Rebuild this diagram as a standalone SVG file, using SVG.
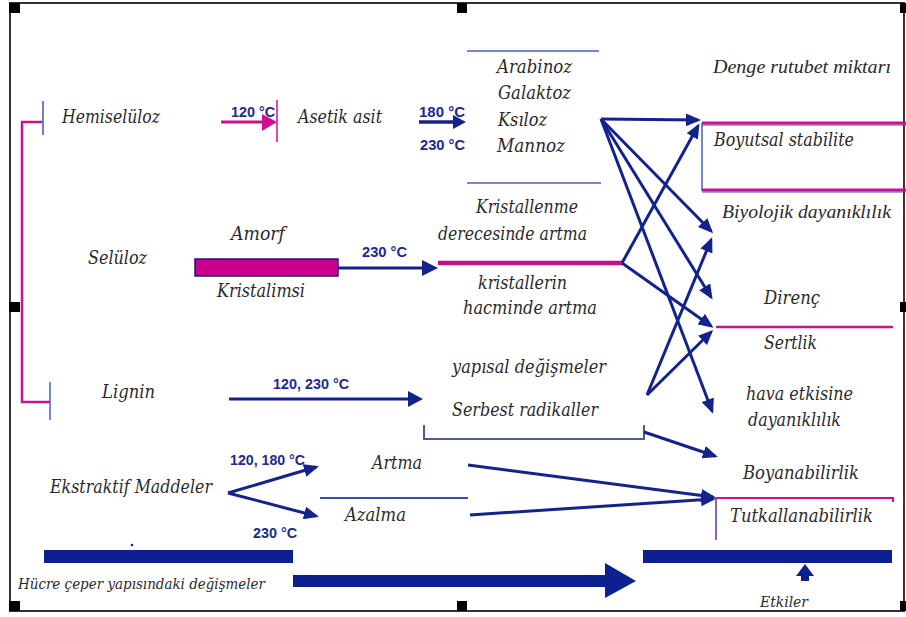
<svg xmlns="http://www.w3.org/2000/svg" width="906" height="617" viewBox="0 0 906 617">
<defs>
<style>
.t{font-family:"DejaVu Serif","Liberation Serif",serif;font-style:italic;font-size:18px;fill:#2a2a2a;}
.n{font-family:"Liberation Serif","DejaVu Serif",serif;font-size:19px;}
.s{font-size:14px;}
.b{font-family:"Liberation Sans",Arial,sans-serif;font-weight:bold;font-size:15px;fill:#1c2a8c;}
.ar{fill:none;stroke:#13238c;stroke-width:3;marker-end:url(#ah);}
.mg{fill:none;stroke:#cc1090;}
.bl{fill:none;stroke:#4a62b8;stroke-width:1.5;}
.nv{fill:#0c208e;}
.h{fill:#000;}
</style>
<marker id="ah" viewBox="0 0 15 13" refX="12" refY="6.5" markerWidth="15" markerHeight="13" markerUnits="userSpaceOnUse" orient="auto">
<path d="M0,0 L15,6.5 L0,13 Z" fill="#13238c"/>
</marker>
</defs>
<rect x="0" y="0" width="906" height="617" fill="#fff"/>
<rect x="10" y="3" width="894" height="608" fill="#fff" stroke="#333" stroke-width="2"/>
<g id="handles">
<rect class="h" x="9" y="3" width="11" height="10"/>
<rect class="h" x="457" y="3" width="10" height="10"/>
<rect class="h" x="900" y="3" width="6" height="10"/>
<rect class="h" x="9" y="302" width="11" height="10"/>
<rect class="h" x="900" y="302" width="6" height="10"/>
<rect class="h" x="9" y="601" width="11" height="10"/>
<rect class="h" x="457" y="601" width="10" height="10"/>
<rect class="h" x="900" y="601" width="6" height="10"/>
</g>

<g id="bracket">
<path class="mg" d="M43,122 H22 V402 H50" stroke-width="2.5"/>
<line x1="43" y1="101" x2="43" y2="135" stroke="#6a82c8" stroke-width="2"/>
<line x1="50" y1="382" x2="50" y2="420" stroke="#4060c0" stroke-width="1.5"/>
</g>

<g id="hemiseluloz">
<text class="t" x="62" y="123" textLength="98" lengthAdjust="spacingAndGlyphs">Hemiselüloz</text>
</g>
<g id="asetik-asit">
<line x1="277" y1="100" x2="277" y2="142" stroke="#cc1090" stroke-width="1.5"/>
<text class="t" x="298" y="123" textLength="84" lengthAdjust="spacingAndGlyphs">Asetik asit</text>
</g>
<g id="sekerler">
<line class="bl" x1="467" y1="51" x2="599" y2="51"/>
<line class="bl" x1="467" y1="183" x2="601" y2="183"/>
<text class="t" x="497" y="73" textLength="75" lengthAdjust="spacingAndGlyphs">Arabinoz</text>
<text class="t" x="498" y="99" textLength="73" lengthAdjust="spacingAndGlyphs">Galaktoz</text>
<text class="t" x="498" y="126" textLength="49" lengthAdjust="spacingAndGlyphs">Ksıloz</text>
<text class="t" x="497" y="152" textLength="68" lengthAdjust="spacingAndGlyphs">Mannoz</text>
</g>
<g id="seluloz">
<text class="t" x="88" y="264" textLength="59" lengthAdjust="spacingAndGlyphs">Selüloz</text>
</g>
<g id="amorf-kristalimsi">
<text class="t" x="231" y="240" textLength="54" lengthAdjust="spacingAndGlyphs">Amorf</text>
<rect x="195" y="259" width="143" height="17" fill="#c8008a" stroke="#1a1a7a" stroke-width="1.5"/>
<text class="t" x="217" y="297" textLength="88" lengthAdjust="spacingAndGlyphs">Kristalimsi</text>
</g>
<g id="kristallenme">
<text class="t" x="476" y="213" textLength="102" lengthAdjust="spacingAndGlyphs">Kristallenme</text>
<text class="t" x="438" y="240" textLength="149" lengthAdjust="spacingAndGlyphs">derecesinde artma</text>
<line x1="438" y1="263" x2="622" y2="263" stroke="#c0108c" stroke-width="4.5"/>
<text class="t" x="478" y="289" textLength="89" lengthAdjust="spacingAndGlyphs">kristallerin</text>
<text class="t" x="463" y="314" textLength="134" lengthAdjust="spacingAndGlyphs">hacminde artma</text>
</g>
<g id="lignin">
<text class="t" x="102" y="398" textLength="53" lengthAdjust="spacingAndGlyphs">Lignin</text>
</g>
<g id="lignin-sonuc">
<text class="t" x="452" y="373" textLength="154" lengthAdjust="spacingAndGlyphs">yapısal değişmeler</text>
<text class="t" x="452" y="416" textLength="146" lengthAdjust="spacingAndGlyphs">Serbest radikaller</text>
<path d="M424,425 V439 H644 V425" fill="none" stroke="#4a5a9a" stroke-width="2"/>
</g>
<g id="ekstraktif">
<text class="t" x="50" y="493" textLength="162" lengthAdjust="spacingAndGlyphs">Ekstraktif Maddeler</text>
</g>
<g id="artma-azalma">
<text class="t" x="372" y="469" textLength="50" lengthAdjust="spacingAndGlyphs">Artma</text>
<line x1="320" y1="498" x2="468" y2="498" stroke="#3050b0" stroke-width="2"/>
<text class="t" x="345" y="521" textLength="61" lengthAdjust="spacingAndGlyphs">Azalma</text>
</g>
<g id="denge">
<text class="t n" x="713" y="73" textLength="178" lengthAdjust="spacingAndGlyphs">Denge rutubet miktarı</text>
</g>
<g id="boyutsal">
<line x1="702" y1="125" x2="906" y2="125" stroke="#4a4ab0" stroke-width="1"/>
<line class="mg" x1="702" y1="123" x2="906" y2="123" stroke-width="3"/>
<line x1="702" y1="192" x2="906" y2="192" stroke="#4a4ab0" stroke-width="1"/>
<line class="mg" x1="702" y1="190" x2="906" y2="190" stroke-width="3"/>
<line x1="702" y1="123" x2="702" y2="191" stroke="#4a62b8" stroke-width="1.5"/>
<text class="t" x="714" y="146" textLength="140" lengthAdjust="spacingAndGlyphs">Boyutsal stabilite</text>
</g>
<g id="biyolojik">
<text class="t n" x="722" y="218" textLength="169" lengthAdjust="spacingAndGlyphs">Biyolojik dayanıklılık</text>
</g>
<g id="direnc-sertlik">
<text class="t" x="764" y="304" textLength="56" lengthAdjust="spacingAndGlyphs">Direnç</text>
<line class="mg" x1="716" y1="327" x2="893" y2="327" stroke-width="2.5"/>
<text class="t" x="764" y="349" textLength="53" lengthAdjust="spacingAndGlyphs">Sertlik</text>
</g>
<g id="hava">
<text class="t" x="746" y="400" textLength="107" lengthAdjust="spacingAndGlyphs">hava etkisine</text>
<text class="t" x="748" y="426" textLength="93" lengthAdjust="spacingAndGlyphs">dayanıklılık</text>
</g>
<g id="boyanabilirlik">
<text class="t" x="743" y="479" textLength="116" lengthAdjust="spacingAndGlyphs">Boyanabilirlik</text>
<path class="mg" d="M716,498 H893 V502" stroke-width="2"/>
<line x1="716" y1="498" x2="716" y2="540" stroke="#6030a0" stroke-width="1.5"/>
<text class="t" x="730" y="522" textLength="143" lengthAdjust="spacingAndGlyphs">Tutkallanabilirlik</text>
</g>
<g id="hucre">
<rect class="nv" x="44" y="550" width="249" height="13"/>
<circle cx="132" cy="545" r="1.3" fill="#0c208e"/>
<text class="t s" x="18" y="589" textLength="247" lengthAdjust="spacingAndGlyphs">Hücre çeper yapısındaki değişmeler</text>
</g>
<g id="etkiler">
<rect class="nv" x="643" y="550" width="249" height="13"/>
<polygon class="nv" points="805,564 814,576 809,576 809,581 801,581 801,576 796,576"/>
<text class="t s" x="760" y="607" textLength="48" lengthAdjust="spacingAndGlyphs">Etkiler</text>
</g>

<g id="connectors">
<line x1="221" y1="122" x2="263" y2="122" stroke="#cc1090" stroke-width="3"/>
<polygon points="262,114 277,122 262,131" fill="#cc1090"/>
<text class="b" x="231" y="117" textLength="44" lengthAdjust="spacingAndGlyphs">120 °C</text>

<line x1="419" y1="122" x2="455" y2="122" stroke="#13238c" stroke-width="3.5"/>
<polygon points="453,115 466,122 453,129" fill="#13238c"/>
<text class="b" x="419" y="117" textLength="46" lengthAdjust="spacingAndGlyphs">180 °C</text>
<text class="b" x="420" y="150" textLength="45" lengthAdjust="spacingAndGlyphs">230 °C</text>

<line x1="338" y1="268" x2="424" y2="268" stroke="#13238c" stroke-width="3"/>
<polygon points="422,260 438,268 422,276" fill="#13238c"/>
<text class="b" x="362" y="257" textLength="45" lengthAdjust="spacingAndGlyphs">230 °C</text>

<line x1="229" y1="399" x2="410" y2="399" stroke="#13238c" stroke-width="3"/>
<polygon points="408,391 423,399 408,407" fill="#13238c"/>
<text class="b" x="273" y="389" textLength="76" lengthAdjust="spacingAndGlyphs">120, 230 °C</text>

<path class="ar" d="M228,493 L316,467"/>
<path class="ar" d="M228,493 L316,516"/>
<text class="b" x="230" y="465" textLength="75" lengthAdjust="spacingAndGlyphs">120, 180 °C</text>
<text class="b" x="253" y="538" textLength="44" lengthAdjust="spacingAndGlyphs">230 °C</text>

<path class="ar" d="M601,119 L698,120"/>
<path class="ar" d="M601,119 L711,231"/>
<path class="ar" d="M601,119 L711,297"/>
<path class="ar" d="M601,119 L712,411"/>
<path class="ar" d="M622,263 L698,126"/>
<path class="ar" d="M622,263 L711,326"/>
<path class="ar" d="M647,395 L711,240"/>
<path class="ar" d="M647,395 L711,332"/>
<path class="ar" d="M644,432 L715,456"/>
<path class="ar" d="M468,465 L713,497"/>
<path class="ar" d="M470,515 L713,499"/>

<polygon class="nv" points="293,575 605,575 605,563 636,581 605,598 605,587 293,587"/>
</g>
</svg>
